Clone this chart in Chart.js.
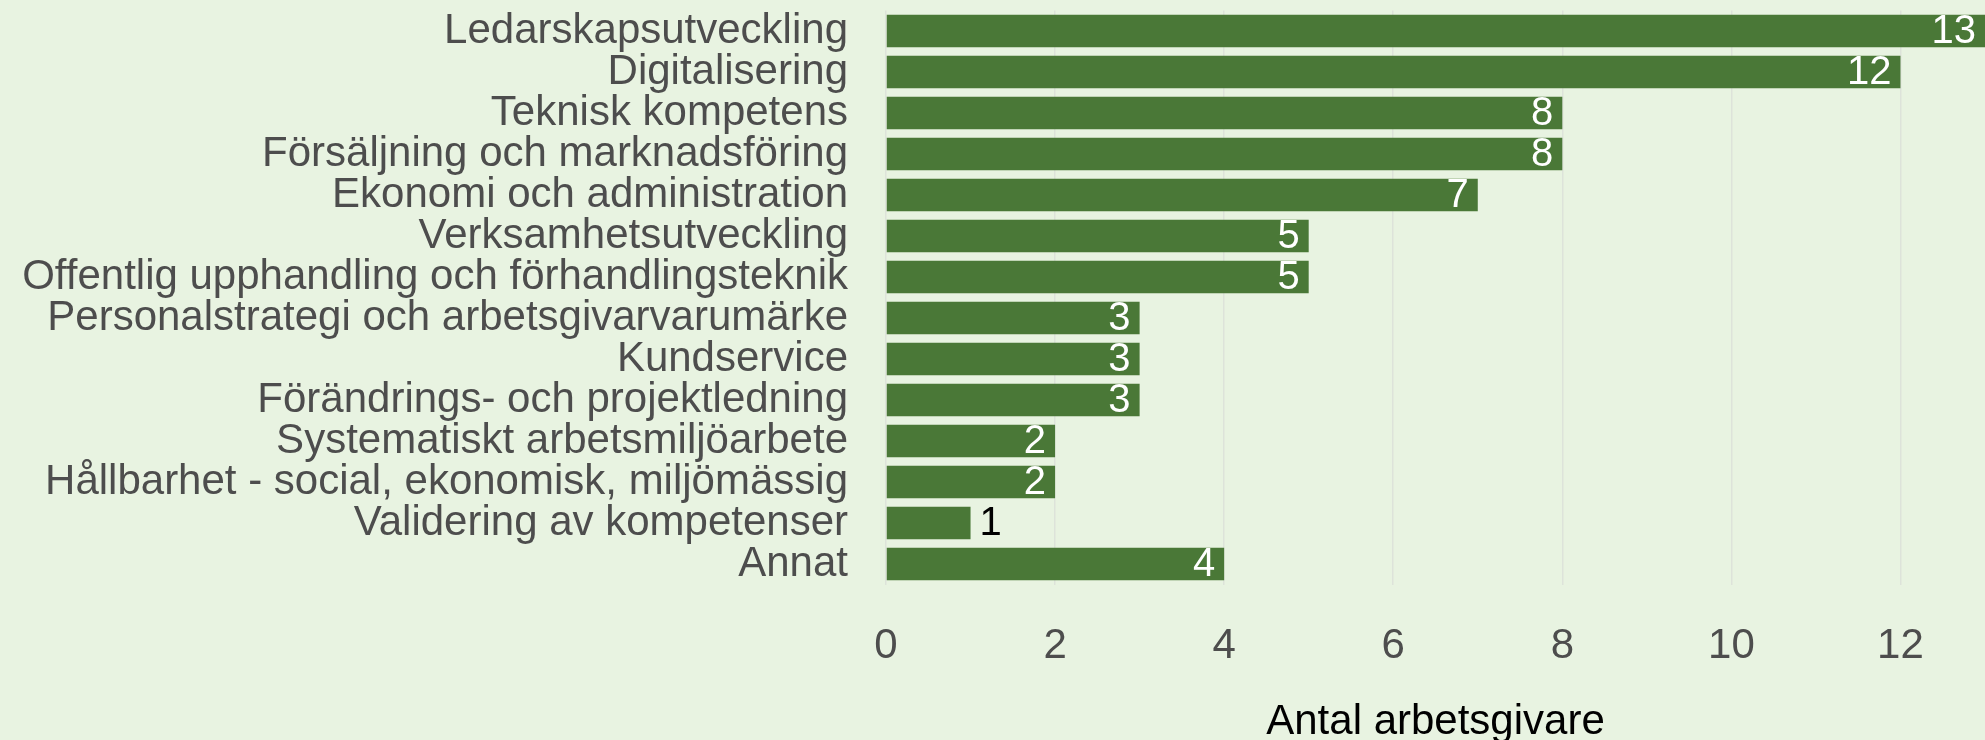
<!DOCTYPE html>
<html>
<head>
<meta charset="utf-8">
<script src="https://cdn.jsdelivr.net/npm/chart.js@4.4.1/dist/chart.umd.min.js"></script>
<style>
  html, body { margin: 0; padding: 0; background: #e8f3e1; overflow: hidden; }
  #wrap { width: 1985px; height: 748px; position: relative; }
</style>
</head>
<body>
<div id="wrap"><canvas id="chart"></canvas></div>
<script>
const categories = [
  "Ledarskapsutveckling",
  "Digitalisering",
  "Teknisk kompetens",
  "Försäljning och marknadsföring",
  "Ekonomi och administration",
  "Verksamhetsutveckling",
  "Offentlig upphandling och förhandlingsteknik",
  "Personalstrategi och arbetsgivarvarumärke",
  "Kundservice",
  "Förändrings- och projektledning",
  "Systematiskt arbetsmiljöarbete",
  "Hållbarhet - social, ekonomisk, miljömässig",
  "Validering av kompetenser",
  "Annat"
];
const counts = [13, 12, 8, 8, 7, 5, 5, 3, 3, 3, 2, 2, 1, 4];
const xTicks = [0, 2, 4, 6, 8, 10, 12];
const xMax = 13;
const axisTitle = "Antal arbetsgivare";

const FONT = "'Liberation Sans', Arial, sans-serif";

// value labels at the end of each bar: white inside, black outside for short bars
const barLabels = {
  id: "barLabels",
  afterDatasetsDraw(chart) {
    const ctx = chart.ctx;
    const meta = chart.getDatasetMeta(0);
    ctx.save();
    ctx.font = "40px " + FONT;
    ctx.textBaseline = "middle";
    meta.data.forEach((bar, idx) => {
      const txt = String(counts[idx]);
      if (bar.x - bar.base > 100) {
        ctx.fillStyle = "#ffffff";
        ctx.textAlign = "right";
        ctx.fillText(txt, bar.x - 9, bar.y + 1);
      } else {
        ctx.fillStyle = "#000000";
        ctx.textAlign = "left";
        ctx.fillText(txt, bar.x + 9, bar.y + 1);
      }
    });
    ctx.restore();
  }
};

new Chart(document.getElementById("chart"), {
  type: "bar",
  data: {
    labels: categories,
    datasets: [{
      data: counts,
      backgroundColor: "#4a7837",
      borderWidth: 0,
      barPercentage: 0.795,
      categoryPercentage: 1
    }]
  },
  options: {
    indexAxis: "y",
    responsive: true,
    maintainAspectRatio: false,
    animation: false,
    layout: { autoPadding: false, padding: { top: 10.5, right: 0, bottom: 0, left: 0 } },
    plugins: {
      legend: { display: false },
      tooltip: { enabled: false }
    },
    scales: {
      x: {
        min: 0,
        max: xMax,
        afterBuildTicks: axis => {
          axis.ticks = xTicks.map(v => ({ value: v }));
        },
        afterFit: scale => { scale.height = 163.5; },
        grid: { color: "#dde3da", lineWidth: 1.5, drawTicks: false },
        border: { display: false },
        ticks: {
          padding: 37,
          maxRotation: 0,
          color: "#4d4d4d",
          font: { family: FONT, size: 42 }
        },
        title: {
          display: true,
          text: axisTitle,
          color: "#000000",
          font: { family: FONT, size: 42 },
          padding: { top: 26, bottom: 0 }
        }
      },
      y: {
        afterFit: scale => {
          scale.width = 886;
          scale.paddingTop = 0;
          scale.paddingBottom = 0;
        },
        grid: { display: false, drawTicks: false },
        border: { display: false },
        ticks: {
          padding: 38,
          autoSkip: false,
          color: "#4d4d4d",
          font: { family: FONT, size: 42 }
        }
      }
    }
  },
  plugins: [barLabels]
});
</script>
</body>
</html>
